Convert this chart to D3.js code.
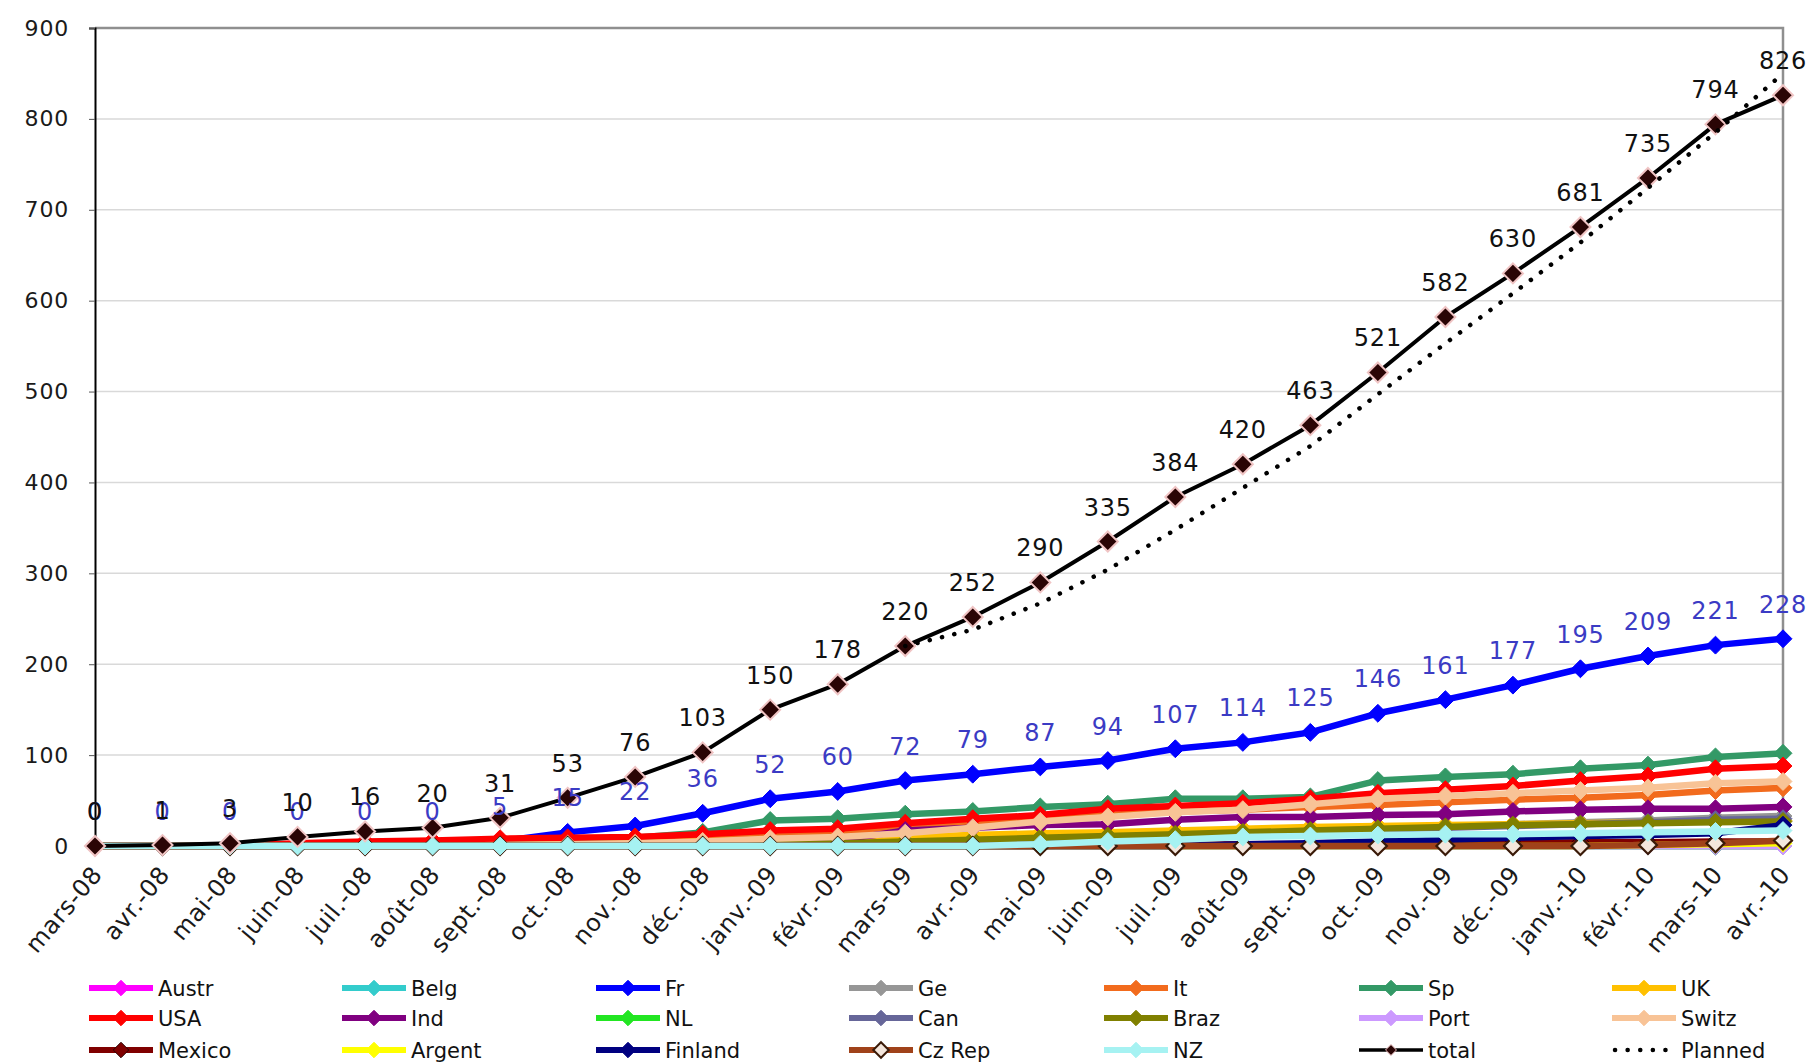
<!DOCTYPE html>
<html>
<head>
<meta charset="utf-8">
<script src="https://cdn.jsdelivr.net/npm/d3@7"></script>
<style>
  html, body { margin: 0; padding: 0; background: #ffffff; }
  svg { display: block; font-family: "DejaVu Sans", Verdana, sans-serif; }
</style>
</head>
<body>
<svg id="chart" width="1812" height="1064"></svg>
<script>
// Monthly categories
const months = ["mars-08","avr.-08","mai-08","juin-08","juil.-08","août-08","sept.-08","oct.-08","nov.-08","déc.-08",
  "janv.-09","févr.-09","mars-09","avr.-09","mai-09","juin-09","juil.-09","août-09","sept.-09","oct.-09","nov.-09","déc.-09",
  "janv.-10","févr.-10","mars-10","avr.-10"];

const yTicks = [0,100,200,300,400,500,600,700,800,900];

// Cumulative counts per country
const austr   = [0,0,0,0,0,0,0,0,0,0,0,0,0,0,0,0,0,0,0,0,0,0,0,0,0,0];
const belg    = [0,0,0,0,0,0,0,0,0,0,0,0,0,0,0,0,0,0,0,0,0,0,0,0,0,0];
const fr      = [0,0,0,0,0,0,5,15,22,36,52,60,72,79,87,94,107,114,125,146,161,177,195,209,221,228];
const ge      = [0,0,0,0,0,0,0,0,1,2,3,4,6,8,10,12,14,16,18,20,22,24,26,28,31,33];
const it      = [0,0,0,2,3,4,5,6,7,9,12,14,20,25,30,34,38,40,43,45,48,51,53,56,61,64];
const sp      = [0,0,0,1,2,3,4,6,9,15,28,30,35,38,43,46,52,52,54,72,76,79,85,89,98,102];
const uk      = [0,0,0,0,0,0,1,2,3,5,7,9,10,12,14,15,17,19,21,22,23,24,25,26,27,28];
const usa     = [0,0,0,3,5,6,8,9,10,13,17,19,25,30,34,41,44,47,52,58,62,66,72,77,85,88];
const ind     = [0,0,0,0,0,0,0,0,1,2,4,6,17,20,23,24,29,32,32,34,35,38,40,41,41,43];
const nl      = [0,0,0,0,0,0,0,0,0,0,0,0,0,0,0,0,0,0,0,0,0,0,0,0,0,0];
const can     = [0,0,0,0,0,0,0,0,0,0,1,2,4,6,8,10,12,14,16,18,20,22,24,26,29,30];
const braz    = [0,0,0,0,0,0,0,0,0,1,2,3,5,7,9,11,13,15,17,19,21,23,24,25,26,27];
const port    = [0,0,0,0,0,0,0,0,0,0,0,0,0,0,0,0,0,0,0,0,0,0,0,0,0,0];
const switz   = [0,0,0,0,0,0,1,2,3,5,8,10,14,20,27,32,37,40,46,52,55,58,61,64,69,71];
const mexico  = [0,0,0,0,0,0,0,0,0,0,0,0,0,0,0,1,1,2,2,3,3,3,4,4,5,5];
const argent  = [0,0,0,0,0,0,0,0,0,0,0,0,0,0,0,0,0,0,0,0,0,0,0,1,2,3];
const finland = [0,0,0,0,0,0,0,0,0,0,0,0,0,0,0,0,0,2,3,5,7,9,11,12,14,23];
const czrep   = [0,0,0,0,0,0,0,0,0,0,0,0,0,0,0,0,0,0,0,0,0,0,0,1,3,6];
const nz      = [0,0,0,0,0,0,0,0,0,0,0,0,0,0,2,5,7,10,11,12,13,13,14,15,16,17];

// Overall total and the planned trajectory
const total   = [0,1,3,10,16,20,31,53,76,103,150,178,220,252,290,335,384,420,463,521,582,630,681,735,794,826];
const planned = [null,null,null,null,null,null,null,null,null,null,null,null,220,238,267,304,348,394,440,497,553,608,664,724,785,850];

const countryNames  = ["Austr","Belg","Fr","Ge","It","Sp","UK","USA","Ind","NL","Can","Braz","Port","Switz","Mexico","Argent","Finland","Cz Rep","NZ"];
const countryValues = [austr,belg,fr,ge,it,sp,uk,usa,ind,nl,can,braz,port,switz,mexico,argent,finland,czrep,nz];
const countryColors = ["#ff00ff","#33cccc","#0000ff","#969696","#f26b1d","#339966","#ffc000","#ff0000","#800080","#22e622",
  "#666699","#808000","#cc99ff","#f8c396","#800000","#ffff00","#000080","#a0421a","#a6f2f2"];

// ---------------------------------------------------------------------------
const svg = d3.select("#chart");
const plotLeft = 95, plotRight = 1783, plotTop = 28, plotBottom = 846;

const x = d3.scalePoint().domain(months).range([plotLeft, plotRight]);
const y = d3.scaleLinear().domain([0, 900]).range([plotBottom, plotTop]);

// square diamond marker
const diamond = {
  draw(ctx, size) {
    const r = Math.sqrt(size / 2);
    ctx.moveTo(0, -r); ctx.lineTo(r, 0); ctx.lineTo(0, r); ctx.lineTo(-r, 0); ctx.closePath();
  }
};
const sym = s => d3.symbol().type(diamond).size(s)();

// gridlines
svg.append("g").selectAll("line")
  .data(yTicks.filter(t => t > 0 && t < 900))
  .join("line")
  .attr("x1", plotLeft).attr("x2", plotRight)
  .attr("y1", d => y(d)).attr("y2", d => y(d))
  .attr("stroke", "#d9d9d9").attr("stroke-width", 1.5);

// plot border (top & right)
svg.append("path")
  .attr("d", `M${plotLeft},${y(900)}H${plotRight}V${plotBottom}`)
  .attr("fill", "none").attr("stroke", "#8f8f8f").attr("stroke-width", 2.5);

// y axis
const yAxis = svg.append("g")
  .attr("transform", `translate(${plotLeft},0)`)
  .call(d3.axisLeft(y).tickValues(yTicks).tickSize(6).tickPadding(20).tickFormat(d3.format("d")));
yAxis.select(".domain").attr("stroke", "#000").attr("stroke-width", 2);
yAxis.selectAll(".tick line").attr("stroke", "#555").attr("stroke-width", 1);
yAxis.selectAll(".tick text")
  .attr("fill", "#1a1a1a").attr("font-size", 22).attr("letter-spacing", 0.8)
  .attr("font-family", "DejaVu Sans, Verdana, sans-serif");

// x axis
const xAxis = svg.append("g")
  .attr("transform", `translate(0,${plotBottom})`)
  .call(d3.axisBottom(x).tickSize(0));
xAxis.select(".domain").attr("stroke", "#000").attr("stroke-width", 1.5);
xAxis.selectAll(".tick text")
  .attr("x", 0).attr("y", 0).attr("dy", null)
  .attr("text-anchor", "end")
  .attr("transform", "translate(8,29) rotate(-50)")
  .attr("fill", "#1a1a1a").attr("font-size", 24).attr("letter-spacing", 0.6)
  .attr("font-family", "DejaVu Sans, Verdana, sans-serif");

// country series
const line = d3.line().defined(d => d != null).x((d, i) => x(months[i])).y(d => y(d));
const plot = svg.append("g");

countryNames.forEach((name, k) => {
  const vals = countryValues[k];
  const col = countryColors[k];
  const g = plot.append("g").attr("class", "series");
  g.append("path")
    .attr("d", line(vals))
    .attr("fill", "none").attr("stroke", col)
    .attr("stroke-width", 6.5).attr("stroke-linejoin", "round");
  const isCz = name === "Cz Rep";
  const isMex = name === "Mexico";
  g.selectAll("path.m").data(vals).join("path")
    .attr("class", "m")
    .attr("transform", (d, i) => `translate(${x(months[i])},${y(d)})`)
    .attr("d", sym(160))
    .attr("fill", isCz ? "#f4e6dc" : col)
    .attr("stroke", isCz ? "#3a1a08" : (isMex ? "#2a0000" : col))
    .attr("stroke-width", isCz ? 2.2 : 1);
});

// total
plot.append("path")
  .attr("d", line(total))
  .attr("fill", "none").attr("stroke", "#000").attr("stroke-width", 4).attr("stroke-linejoin", "round");
plot.selectAll("path.tm").data(total).join("path")
  .attr("class", "tm")
  .attr("transform", (d, i) => `translate(${x(months[i])},${y(d)})`)
  .attr("d", sym(200))
  .attr("fill", "#2a0505").attr("stroke", "#f0c4c4").attr("stroke-width", 2);

// planned (dotted)
plot.append("path")
  .attr("d", line(planned))
  .attr("fill", "none").attr("stroke", "#000").attr("stroke-width", 4.5)
  .attr("stroke-linecap", "round").attr("stroke-dasharray", "0.1 12.5");

// value labels
const labels = svg.append("g")
  .attr("font-size", 24).attr("letter-spacing", 0.8).attr("text-anchor", "middle");
labels.selectAll("text.fr").data(fr).join("text")
  .attr("class", "fr")
  .attr("x", (d, i) => x(months[i]))
  .attr("y", d => y(d) - 26)
  .attr("fill", "#3b3bc4")
  .text(d => d);
labels.selectAll("text.tot").data(total).join("text")
  .attr("class", "tot")
  .attr("x", (d, i) => x(months[i]))
  .attr("y", d => y(d) - 26)
  .attr("fill", "#111")
  .text(d => d);

// legend
const legendNames  = countryNames.concat(["total", "Planned"]);
const colX = [89, 342, 596, 849, 1104, 1359, 1612];
const rowY = [988, 1018, 1050];
const legend = svg.append("g").attr("font-size", 21).attr("fill", "#111");

legendNames.forEach((name, k) => {
  const g = legend.append("g")
    .attr("transform", `translate(${colX[k % 7]},${rowY[Math.floor(k / 7)]})`);
  if (name === "Planned") {
    g.append("line").attr("x1", 3).attr("x2", 64).attr("y1", 0).attr("y2", 0)
      .attr("stroke", "#000").attr("stroke-width", 4.5)
      .attr("stroke-linecap", "round").attr("stroke-dasharray", "0.1 12.5");
  } else if (name === "total") {
    g.append("line").attr("x1", 0).attr("x2", 64).attr("y1", 0).attr("y2", 0)
      .attr("stroke", "#000").attr("stroke-width", 3.5);
    g.append("path").attr("transform", "translate(32,0)").attr("d", sym(60))
      .attr("fill", "#2a0505").attr("stroke", "#f0c4c4").attr("stroke-width", 1);
  } else {
    const col = countryColors[k];
    const isCz = name === "Cz Rep";
    g.append("line").attr("x1", 0).attr("x2", 64).attr("y1", 0).attr("y2", 0)
      .attr("stroke", col).attr("stroke-width", 6);
    g.append("path").attr("transform", "translate(32,0)").attr("d", sym(120))
      .attr("fill", isCz ? "#f4e6dc" : col)
      .attr("stroke", isCz ? "#3a1a08" : (name === "Mexico" ? "#2a0000" : col))
      .attr("stroke-width", isCz ? 2 : 1);
  }
  g.append("text").attr("x", 69).attr("y", 0).attr("dy", "0.36em").text(name);
});
</script>
</body>
</html>
